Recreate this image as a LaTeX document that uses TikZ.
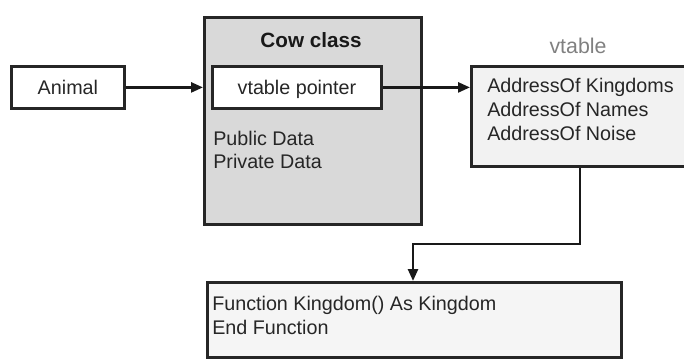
\documentclass[tikz,border=0pt]{standalone}
\usepackage{fontspec}
\setmainfont{Liberation Sans}
\usetikzlibrary{arrows.meta,shadows}
\begin{document}
\begin{tikzpicture}[x=0.75pt,y=-0.75pt,
  box/.style={draw=black!85, line width=2.1pt, rectangle, inner sep=0pt, anchor=north west,
    drop shadow={shadow xshift=1.5pt,shadow yshift=-1.5pt,opacity=0.18}},
  boxtext/.style={font=\fontsize{14.8}{18}\selectfont, text=black!85, text height=10.5pt, text depth=0pt},
  lbl/.style={font=\fontsize{14.8}{18}\selectfont, text=black!85, inner sep=0pt, anchor=base west},
  link/.style={line width=1.9pt, draw=black!90, -{Triangle[length=9pt,width=7.5pt]}}
]
\useasboundingbox (0,0) rectangle (684,358);
\clip (0,0) rectangle (684,358);

% boxes
\node[box, boxtext, fill=white, minimum width=84.75pt, minimum height=31.5pt] (animal) at (10,65) {Animal};
\node[box, fill=black!15, minimum width=162.75pt, minimum height=155.25pt] (cow) at (203,16) {};
\node[box, boxtext, fill=white, minimum width=126.75pt, minimum height=31.5pt] (vptr) at (211,65) {vtable pointer};
\node[box, fill=black!5, minimum width=190pt, minimum height=75pt] (vtbl) at (470,65) {};
\node[box, fill=black!4, minimum width=310.5pt, minimum height=56.25pt] (func) at (206,281) {};

% texts
\node[font=\fontsize{15.5}{18}\selectfont\bfseries, text=black!90, inner sep=0pt, anchor=base] (cowtitle) at (311,47) {Cow class};
\node[lbl] (pub) at (213,145) {Public Data};
\node[lbl] (priv) at (213,168) {Private Data};
\node[font=\fontsize{16}{18}\selectfont, text=black!50, inner sep=0pt, anchor=base] (vtlabel) at (578,53) {vtable};
\node[lbl] (adk) at (487,92) {AddressOf Kingdoms};
\node[lbl] (adn) at (487,116) {AddressOf Names};
\node[lbl] (adz) at (487,140) {AddressOf Noise};
\node[lbl] (fn1) at (212,310) {Function Kingdom() As Kingdom};
\node[lbl] (fn2) at (212,334) {End Function};

% connectors
\draw[link] (animal.east) -- (animal.east -| cow.west);
\draw[link] (vptr.east) -- (vptr.east -| vtbl.west);
\coordinate (bendA) at (580,244);
\coordinate (bendB) at (413,244);
\draw[link] (vtbl.south -| bendA) -- (bendA) -- (bendB) -- (bendB |- func.north);
\end{tikzpicture}
\end{document}
